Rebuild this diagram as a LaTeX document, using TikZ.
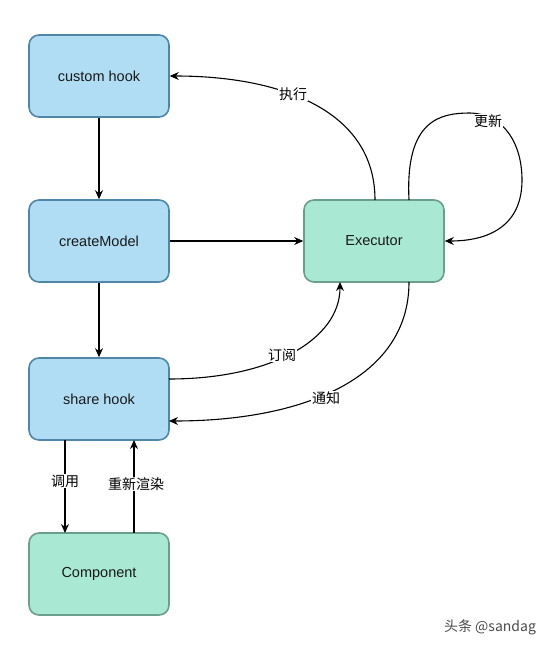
\documentclass[tikz,border=0pt]{standalone}
\usepackage{fontspec}
\setmainfont{Liberation Sans}
\newfontfamily\cjk{Noto Sans CJK SC}
\usetikzlibrary{arrows.meta}
\definecolor{bfill}{HTML}{B1DDF4}
\definecolor{bdraw}{HTML}{4F87A8}
\definecolor{gfill}{HTML}{A9E8D3}
\definecolor{gdraw}{HTML}{6C9E8E}
\tikzset{
  box/.style={rounded corners=10pt, minimum width=140pt, minimum height=82pt, line width=1.6pt, font=\fontsize{14.5}{17}\selectfont, text=black!90},
  bluebox/.style={box, fill=bfill, draw=bdraw},
  greenbox/.style={box, fill=gfill, draw=gdraw},
  conn/.style={line width=1.1pt, -{Stealth[length=9pt,width=8pt]}},
  lbl/.style={font=\cjk\fontsize{14}{16}\selectfont, fill=white, inner sep=1pt},
}
\begin{document}
\begin{tikzpicture}[x=1pt,y=-1pt]
\useasboundingbox (0,0) rectangle (550,645);
\node[bluebox] (ch) at (99,76) {custom hook};
\node[bluebox] (cm) at (99,241) {createModel};
\node[bluebox] (sh) at (99,399) {share hook};
\node[greenbox] (co) at (99,574) {Component};
\node[greenbox] (ex) at (374,241) {Executor};

\coordinate (exT1) at (375,200);
\coordinate (exT2) at (409,200);
\coordinate (exB1) at (340,282);
\coordinate (exB2) at (409,282);
\coordinate (shR1) at (169,379);
\coordinate (shR2) at (169,421);
\coordinate (shB1) at (65,440);
\coordinate (shB2) at (134,440);
\coordinate (coT1) at (65,533);
\coordinate (coT2) at (134,533);

\draw[conn] (ch) -- (cm);
\draw[conn] (cm) -- (sh);
\draw[conn] (cm) -- (ex);
\draw[conn] (exT1) .. controls (375,110) and (280,76) .. (ch.east);
\node[lbl] (l1) at (293,94) {执行};
\draw[conn] (exT2) .. controls (405,120) and (440,113) .. (470,113)
   .. controls (505,114) and (522,145) .. (522,180)
   .. controls (522,225) and (490,241) .. (ex.east);
\node[lbl] (l2) at (488,121) {更新};
\draw[conn] (shR1) .. controls (270,379) and (340,340) .. (exB1);
\node[lbl] (l3) at (282,355) {订阅};
\draw[conn] (exB2) .. controls (409,380) and (300,421) .. (shR2);
\node[lbl] (l4) at (326,398) {通知};
\draw[conn] (shB1) -- (coT1);
\node[lbl] (l5) at (65,481) {调用};
\draw[conn] (coT2) -- (shB2);
\node[lbl] (l6) at (136,484) {重新渲染};
\node[font=\cjk\fontsize{14}{16}\selectfont, text=black!70] (wm) at (490,627) {头条 @sandag};
\end{tikzpicture}
\end{document}
